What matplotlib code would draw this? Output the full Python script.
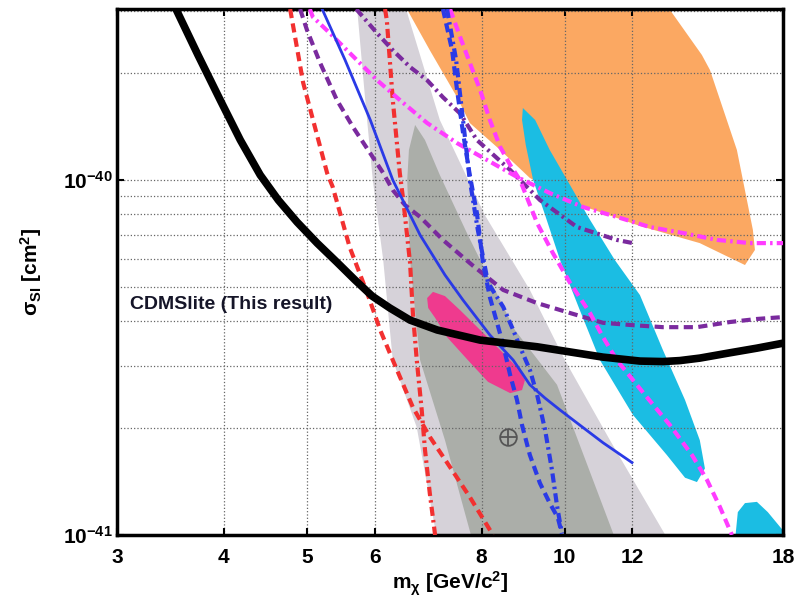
import numpy as np
import matplotlib
matplotlib.use('Agg')
import matplotlib.pyplot as plt
from matplotlib.ticker import FixedLocator, FixedFormatter, NullLocator, LogLocator

plt.rcParams['font.family'] = ['Liberation Sans', 'DejaVu Sans']
plt.rcParams['mathtext.fontset'] = 'custom'
plt.rcParams['mathtext.rm'] = 'Liberation Sans:bold'
plt.rcParams['mathtext.bf'] = 'Liberation Sans:bold'
plt.rcParams['mathtext.it'] = 'Liberation Sans:bold:italic'
plt.rcParams['mathtext.default'] = 'bf'

SCALE = 1e-41  # all cross sections below are in units of 1e-41 cm^2

# CDMSlite limit (this result)
cdms_m = [3.50, 3.73, 3.96, 4.18, 4.41, 4.63, 4.87, 5.14, 5.42, 5.69, 5.96, 6.25, 6.60, 7.10,
          7.97, 9.29, 11.09, 12.25, 13.03, 13.64, 14.39, 15.60, 16.78, 18.0]
cdms_s = [31.0, 22.5, 16.8, 12.96, 10.33, 8.78, 7.61, 6.64, 5.87, 5.23, 4.71, 4.36, 4.03, 3.78,
          3.54, 3.39, 3.17, 3.09, 3.08, 3.10, 3.15, 3.26, 3.36, 3.47]

# red dashed
red1_m = [4.78, 4.95, 5.28, 5.36, 5.61, 5.88, 6.09, 6.30, 6.65, 6.96, 7.29, 7.75, 8.25]
red1_s = [30.3, 18.8, 10.46, 9.56, 6.47, 4.81, 3.78, 3.11, 2.29, 1.89, 1.60, 1.28, 1.0]
# red dash-dot
red2_m = [6.17, 6.20, 6.30, 6.42, 6.48, 6.60, 6.65, 6.72, 6.81, 6.87, 6.96, 7.06]
red2_s = [30.3, 28.2, 16.8, 10.46, 8.78, 5.84, 4.22, 3.11, 2.25, 1.74, 1.31, 1.0]

# purple dashed
pur1_m = [4.91, 5.00, 5.18, 5.42, 5.66, 5.97, 6.14, 6.30, 6.51, 6.78, 7.21, 7.82, 8.48, 9.29, 10.15,
          11.09, 12.02, 13.03, 14.28, 15.60, 16.78, 18.0]
pur1_s = [30.3, 26.5, 21.4, 16.8, 14.1, 11.6, 10.46, 9.37, 8.50, 7.87, 6.78, 5.73, 4.90, 4.50, 4.22,
          3.96, 3.90, 3.85, 3.85, 3.98, 4.06, 4.11]
pur2_m = [5.71, 6.04, 6.30, 6.60, 6.91, 7.21, 7.55, 7.90, 8.64, 9.36, 10.34, 11.51, 12.02]
pur2_s = [30.3, 25.9, 23.2, 20.8, 19.1, 17.1, 15.4, 12.96, 10.67, 8.78, 7.37, 6.78, 6.64]

# blue solid
blue_m = [5.21, 5.54, 5.93, 6.30, 6.78, 7.25, 7.61, 8.18, 8.71, 9.11, 9.49, 9.88, 10.42, 11.09, 11.99]
blue_s = [30.3, 21.8, 14.76, 10.0, 7.0, 5.4, 4.59, 3.66, 3.11, 2.65, 2.43, 2.25, 2.04, 1.82, 1.60]

# blue dashed / dash-dot
blua_m = [7.21, 7.39, 7.49, 7.61, 7.75, 7.90, 8.03, 8.18, 8.34, 8.48, 8.64, 8.80, 8.92, 9.11, 9.36, 9.61, 9.82, 9.93]
blua_s = [30.3, 23.2, 17.9, 13.6, 10.33, 8.07, 5.84, 4.68, 3.96, 3.43, 2.82, 2.40, 2.04, 1.68, 1.40, 1.23, 1.12, 1.01]
blub_m = [7.29, 7.47, 7.61, 7.75, 7.92, 8.14, 8.48, 8.71, 8.87, 9.11, 9.29, 9.49, 9.67, 9.80, 9.93]
blub_s = [30.3, 21.8, 14.76, 10.0, 7.23, 5.13, 4.39, 3.78, 3.39, 2.92, 2.48, 1.98, 1.52, 1.21, 1.01]

# magenta dash-dot
mag1_m = [5.04, 5.08, 5.32, 5.61, 6.04, 6.42, 6.91, 7.49, 8.12, 8.80, 9.61, 10.51, 11.51, 12.58,
          13.75, 15.07, 16.47, 18.0]
mag1_s = [30.3, 28.8, 25.9, 22.8, 19.1, 16.8, 14.47, 12.7, 11.38, 10.2, 9.19, 8.39, 7.87, 7.37,
          7.09, 6.78, 6.64, 6.64]
mag2_m = [7.35, 7.55, 7.75, 7.97, 8.18, 8.41, 8.64, 8.87, 9.29, 9.69, 10.15, 10.71, 11.09, 11.51,
          12.42, 13.28, 14.09, 14.67, 15.19, 15.69]
mag2_s = [30.3, 25.3, 21.4, 17.9, 14.76, 12.39, 11.02, 10.0, 7.56, 6.23, 5.13, 4.22, 3.61, 3.11,
          2.48, 2.04, 1.68, 1.43, 1.20, 1.0]

# light grey region
lgray_m = [5.72, 5.85, 5.97, 6.14, 6.30, 6.72, 7.11, 13.28, 11.30, 10.01, 9.11, 8.07, 7.15, 6.51]
lgray_s = [31.0, 16.8, 10.0, 5.95, 3.11, 2.01, 0.95, 0.95, 1.85, 3.11, 4.90, 7.97, 14.76, 31.0]
# dark grey region
dgray_m = [6.69, 6.58, 6.55, 6.60, 6.78, 7.25, 7.82, 11.51, 9.80, 8.75, 7.69, 7.15, 6.87]
dgray_s = [14.29, 12.15, 10.0, 5.95, 3.11, 1.85, 0.95, 0.95, 2.65, 3.78, 7.09, 10.33, 12.96]

# orange region
orng_m = [6.51, 6.96, 7.49, 7.75, 8.41, 9.11, 10.42, 12.25, 14.39, 16.25, 16.69, 16.60, 15.90,
          14.79, 14.47, 13.17]
orng_s = [31.0, 23.2, 17.1, 14.47, 12.15, 10.13, 8.5, 7.42, 6.64, 5.76, 6.35, 7.23, 12.15,
          20.4, 22.5, 31.0]

# cyan regions
cyan_m = [8.94, 9.24, 9.61, 10.07, 10.71, 11.45, 12.25, 13.03, 13.83, 14.39, 14.59, 14.28,
          13.83, 13.17, 12.02, 11.0, 10.42, 9.88, 9.49, 9.19, 9.01, 8.92]
cyan_s = [15.95, 14.76, 12.15, 10.0, 7.72, 5.95, 4.74, 3.32, 2.40, 1.85, 1.54, 1.41,
          1.45, 1.68, 2.18, 3.11, 4.30, 5.95, 7.97, 10.0, 12.55, 14.76]
cyan2_m = [15.81, 15.94, 16.25, 16.78, 17.28, 18.0, 18.5]
cyan2_s = [0.95, 1.16, 1.23, 1.24, 1.16, 1.03, 0.95]

# pink region
pink_m = [6.91, 7.02, 7.25, 7.55, 7.97, 8.41, 8.82, 8.99, 8.92, 8.64, 8.14, 7.71, 7.29, 7.06, 6.93]
pink_s = [4.65, 4.84, 4.71, 4.30, 3.78, 3.32, 2.95, 2.73, 2.56, 2.51, 2.70, 3.11, 3.61, 4.09, 4.36]

# best fit point
best_m = 8.59
best_s = 1.89

xticks = [3, 4, 5, 6, 8, 10, 12, 18]

s = lambda v: np.array(v) * SCALE

fig = plt.figure(figsize=(7.98, 5.99), dpi=100)
ax = fig.add_axes([0.1466, 0.1068, 0.8346, 0.8781])
ax.set_xscale('log')
ax.set_yscale('log')

ax.fill(lgray_m, s(lgray_s), color='#d6d2d9', lw=0, zorder=1)
ax.fill(dgray_m, s(dgray_s), color='#abaea9', lw=0, zorder=1.1)
ax.fill(orng_m, s(orng_s), color='#fba862', lw=0, zorder=1.2)
ax.fill(cyan_m, s(cyan_s), color='#1bbde3', lw=0, zorder=1.3)
ax.fill(cyan2_m, s(cyan2_s), color='#1bbde3', lw=0, zorder=1.3)
ax.fill(pink_m, s(pink_s), color='#ef3a8e', lw=0, zorder=1.4)

dash = (2.2, 1.3)
dashdot = (2.2, 1.0, 0.6, 1.0)
kw = dict(lw=3, solid_joinstyle='round', dash_joinstyle='round')
ax.plot(red1_m, s(red1_s), color='#f23030', dashes=dash, zorder=3, **kw)
ax.plot(red2_m, s(red2_s), color='#f23030', dashes=dashdot, zorder=3, **kw)
ax.plot(pur1_m, s(pur1_s), color='#7a2a9e', dashes=dash, zorder=3, **kw)
ax.plot(pur2_m, s(pur2_s), color='#7a2a9e', dashes=dashdot, zorder=3, **kw)
ax.plot(mag1_m, s(mag1_s), color='#ff3cff', dashes=dashdot, zorder=3, **kw)
ax.plot(mag2_m, s(mag2_s), color='#ff3cff', dashes=dash, zorder=3, **kw)
ax.plot(blua_m, s(blua_s), color='#2a3ae6', dashes=dash, zorder=3.1, **kw)
ax.plot(blub_m, s(blub_s), color='#2a3ae6', dashes=dashdot, zorder=3.1, **kw)
ax.plot(blue_m, s(blue_s), color='#2a3ae6', lw=2, zorder=3.2, solid_joinstyle='round')
ax.plot(cdms_m, s(cdms_s), color='black', lw=5.5, zorder=4, solid_capstyle='butt',
        solid_joinstyle='round')

ax.plot([best_m], [best_s * SCALE], marker='o', ms=12, mfc='none', mec='#555555', mew=1.3, zorder=5)
ax.plot([best_m], [best_s * SCALE], marker='+', ms=12, mec='#555555', mew=1.3, zorder=5)

ax.text(3.11, 4.45 * SCALE, 'CDMSlite (This result)', fontsize=14, fontweight='bold',
        color='#151528', ha='left', va='center', zorder=6)

ax.set_xlim(3, 18)
ax.set_ylim(1e-41, 3.03e-40)

ax.xaxis.set_major_locator(FixedLocator(xticks))
ax.xaxis.set_major_formatter(FixedFormatter([str(t) for t in xticks]))
ax.xaxis.set_minor_locator(NullLocator())
ax.yaxis.set_major_locator(FixedLocator([1e-41, 1e-40]))
ax.yaxis.set_major_formatter(FixedFormatter([r'$10^{-41}$', r'$10^{-40}$']))
ax.yaxis.set_minor_locator(LogLocator(base=10, subs=np.arange(2, 10)))

ax.tick_params(which='major', direction='in', length=5, width=1.5, top=True, right=True,
               labelsize=15)
ax.tick_params(which='minor', direction='in', length=0, width=1, top=True, right=True)
ax.tick_params(axis='x', pad=9)
ax.tick_params(axis='y', pad=3)
for lab in ax.get_xticklabels() + ax.get_yticklabels():
    lab.set_fontweight('bold')

ax.grid(True, which='major', ls=':', color='#666666', lw=0.9)
ax.grid(True, which='minor', axis='y', ls=':', color='#666666', lw=0.9)

for sp in ax.spines.values():
    sp.set_linewidth(2.5)

ax.set_xlabel(r'm$_{\chi}$ [GeV/c$^{2}$]', fontsize=15, fontweight='bold', labelpad=2)
ax.set_ylabel(r'$\sigma_{SI}$ [cm$^{2}$]', fontsize=15, fontweight='bold', labelpad=14)

fig.savefig('out.png', dpi=100)
